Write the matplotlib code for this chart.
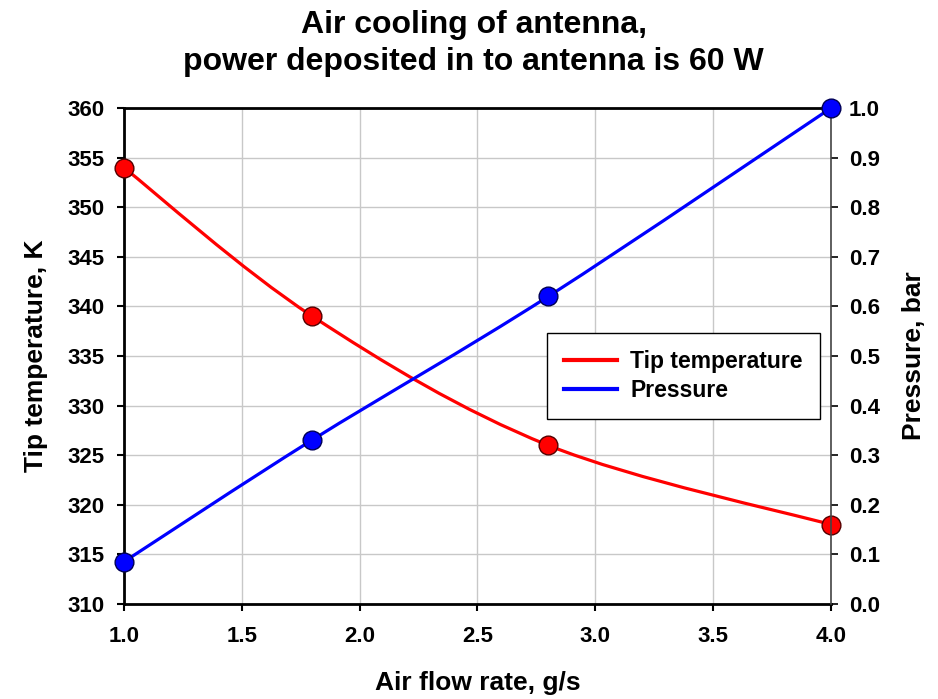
import numpy as np
import matplotlib
matplotlib.use("Agg")
import matplotlib.pyplot as plt
from matplotlib.path import Path
from matplotlib.patches import PathPatch
from matplotlib.lines import Line2D

# data
flow_rate = [1.0, 1.8, 2.8, 4.0]
tip_temperature = [354.0, 339.0, 326.0, 318.0]
pressure = [0.085, 0.331, 0.620, 1.0]

x_ticks = [1.0, 1.5, 2.0, 2.5, 3.0, 3.5, 4.0]
temp_ticks = [310, 315, 320, 325, 330, 335, 340, 345, 350, 355, 360]
pressure_ticks = [0.0, 0.1, 0.2, 0.3, 0.4, 0.5, 0.6, 0.7, 0.8, 0.9, 1.0]

plt.rcParams['font.family'] = ['Liberation Sans', 'DejaVu Sans']
plt.rcParams['font.weight'] = 'bold'


# Excel-like smoothed line: cubic bezier through the points
def smooth_path(xs, ys):
	pts = np.column_stack([xs, ys])
	n = len(pts)
	verts = [pts[0]]
	codes = [Path.MOVETO]
	for i in range(n - 1):
		p0 = pts[max(i - 1, 0)]
		p1 = pts[i]
		p2 = pts[i + 1]
		p3 = pts[min(i + 2, n - 1)]
		c1 = p1 + (p2 - p0) / 6.0
		c2 = p2 - (p3 - p1) / 6.0
		verts += [c1, c2, p2]
		codes += [Path.CURVE4] * 3
	return Path(verts, codes)


fig = plt.figure(figsize=(9.38, 6.99), dpi=100)
ax = fig.add_axes([0.132, 0.1359, 0.754, 0.7096])
ax2 = ax.twinx()

red = '#ff0000'
blue = '#0000ff'

ax.add_patch(PathPatch(smooth_path(flow_rate, tip_temperature), fill=False,
                       edgecolor=red, lw=2.3, zorder=3))
ax.plot(flow_rate, tip_temperature, 'o', color=red, markeredgecolor='#550000',
        markeredgewidth=1.0, markersize=13.5, zorder=4, clip_on=False)

ax2.add_patch(PathPatch(smooth_path(flow_rate, pressure), fill=False,
                        edgecolor=blue, lw=2.3, zorder=3))
ax2.plot(flow_rate, pressure, 'o', color=blue, markeredgecolor='#000055',
         markeredgewidth=1.0, markersize=13.5, zorder=4, clip_on=False)

ax.set_xlim(1.0, 4.0)
ax.set_ylim(310, 360)
ax2.set_ylim(0.0, 1.0)
ax.set_xticks(x_ticks)
ax.set_xticklabels(['%.1f' % v for v in x_ticks])
ax.set_yticks(temp_ticks)
ax2.set_yticks(pressure_ticks)
ax2.set_yticklabels(['%.1f' % v for v in pressure_ticks])

ax.grid(True, color='#c8c8c8', lw=1.0)
ax.set_axisbelow(True)

for s in ['left', 'bottom', 'top']:
	ax.spines[s].set_linewidth(2.0)
	ax.spines[s].set_color('black')
	ax2.spines[s].set_visible(False)
ax.spines['right'].set_visible(False)
ax2.spines['right'].set_linewidth(1.2)
ax2.spines['right'].set_color('#444444')

ax.tick_params(axis='x', direction='out', length=5, width=1.5, pad=11, labelsize=16)
ax.tick_params(axis='y', direction='out', length=5, width=1.5, pad=9, labelsize=16)
ax2.tick_params(axis='y', direction='out', length=5, width=1.2, pad=8, labelsize=16)

ax.set_xlabel('Air flow rate, g/s', fontsize=19, fontweight='bold', labelpad=17)
ax.set_ylabel('Tip temperature, K', fontsize=19, fontweight='bold', labelpad=14)
ax2.set_ylabel('Pressure, bar', fontsize=19, fontweight='bold', labelpad=16)

fig.text(0.505, 0.985, 'Air cooling of antenna,\npower deposited in to antenna is 60 W',
         ha='center', va='top', fontsize=23, fontweight='bold', linespacing=1.3)

handles = [Line2D([], [], color=red, lw=3), Line2D([], [], color=blue, lw=3)]
leg = ax2.legend(handles, ['Tip temperature', 'Pressure'], loc='upper left',
                 bbox_to_anchor=(0.598, 0.546), fontsize=16.5, frameon=True,
                 fancybox=False, edgecolor='black', framealpha=1,
                 handlelength=2.3, handletextpad=0.6, borderpad=0.75,
                 labelspacing=0.25, borderaxespad=0)
leg.get_frame().set_linewidth(1.0)

fig.savefig('out.png', dpi=100)
